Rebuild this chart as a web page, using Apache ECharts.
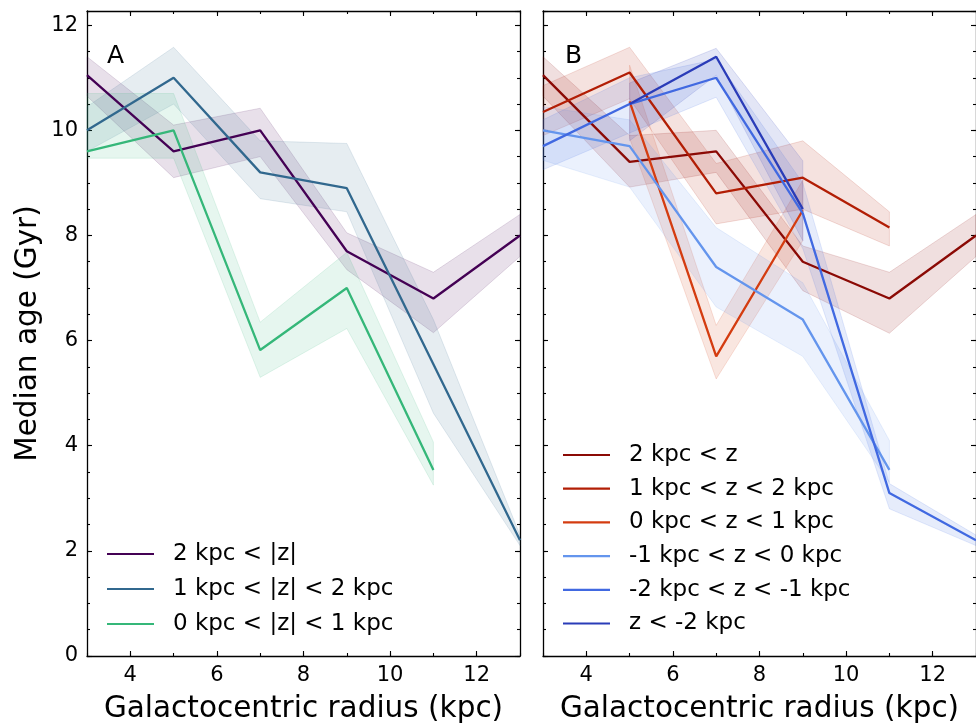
<!DOCTYPE html>
<html>
<head>
<meta charset="utf-8">
<script src="https://cdn.jsdelivr.net/npm/echarts@6/dist/echarts.min.js"></script>
<style>
  html, body { margin: 0; padding: 0; background: #ffffff; }
  #chart { width: 976px; height: 725px; }
</style>
</head>
<body>
<div id="chart"></div>
<script>
// ---- Panel A: bins in |z| ----
const aHighName = '2 kpc < |z|';
const aHighR  = [3, 5, 7, 9, 11, 13];
const aHigh   = [11.05, 9.6, 10.0, 7.7, 6.8, 8.0];
const aHighUp = [11.4, 10.1, 10.42, 8.05, 7.3, 8.4];
const aHighLo = [10.65, 9.1, 9.5, 7.35, 6.15, 7.6];

const aMidName = '1 kpc < |z| < 2 kpc';
const aMidR  = [3, 5, 7, 9, 11, 13];
const aMid   = [10.0, 11.0, 9.2, 8.9, 5.55, 2.2];
const aMidUp = [10.45, 11.58, 9.8, 9.75, 6.4, 2.3];
const aMidLo = [9.6, 10.5, 8.7, 8.45, 4.62, 2.1];

const aLowName = '0 kpc < |z| < 1 kpc';
const aLowR  = [3, 5, 7, 9, 11];
const aLow   = [9.6, 10.0, 5.82, 7.0, 3.54];
const aLowUp = [10.7, 10.7, 6.35, 7.68, 4.07];
const aLowLo = [9.47, 9.47, 5.3, 6.23, 3.25];

// ---- Panel B: bins in signed z ----
const bP2Name = '2 kpc < z';
const bP2R  = [3, 5, 7, 9, 11, 13];
const bP2   = [11.05, 9.4, 9.6, 7.5, 6.8, 8.0];
const bP2Up = [11.4, 9.9, 10.0, 7.8, 7.3, 8.4];
const bP2Lo = [10.65, 8.92, 9.2, 6.95, 6.14, 7.6];

const bP1Name = '1 kpc < z < 2 kpc';
const bP1R  = [3, 5, 7, 9, 11];
const bP1   = [10.35, 11.1, 8.8, 9.1, 8.15];
const bP1Up = [10.85, 11.58, 9.37, 9.8, 8.45];
const bP1Lo = [9.9, 10.6, 8.22, 8.5, 7.8];

const bP0Name = '0 kpc < z < 1 kpc';
const bP0R  = [5, 7, 9];
const bP0   = [10.55, 5.7, 8.48];
const bP0Up = [11.24, 6.29, 9.05];
const bP0Lo = [9.85, 5.27, 7.9];

const bN0Name = '-1 kpc < z < 0 kpc';
const bN0R  = [3, 5, 7, 9, 11];
const bN0   = [10.0, 9.7, 7.4, 6.4, 3.54];
const bN0Up = [10.45, 10.2, 8.15, 7.1, 4.1];
const bN0Lo = [9.43, 8.92, 6.64, 5.7, 3.3];

const bN1Name = '-2 kpc < z < -1 kpc';
const bN1R  = [3, 5, 7, 9, 11, 13];
const bN1   = [9.7, 10.5, 11.0, 8.42, 3.1, 2.2];
const bN1Up = [10.2, 11.0, 11.35, 9.0, 3.28, 2.3];
const bN1Lo = [9.25, 9.95, 10.63, 7.75, 2.8, 2.1];

const bN2Name = 'z < -2 kpc';
const bN2R  = [5, 7, 9];
const bN2   = [10.5, 11.4, 8.5];
const bN2Up = [10.9, 11.56, 9.42];
const bN2Lo = [9.8, 11.05, 7.9];

// Tick positions
const xMajorTicks = [4, 6, 8, 10, 12];
const X_MIN = 3, X_MAX = 13, Y_MIN = 0, Y_MAX = 12.27;

const FONT = 'DejaVu Sans';

// Each panel: [name, radii, median, upper, lower, colour]
const panelA = [
  [aHighName, aHighR, aHigh, aHighUp, aHighLo, '#440154'],
  [aMidName,  aMidR,  aMid,  aMidUp,  aMidLo,  '#31688e'],
  [aLowName,  aLowR,  aLow,  aLowUp,  aLowLo,  '#35b779']
];
const panelB = [
  [bP2Name, bP2R, bP2, bP2Up, bP2Lo, '#8b0a05'],
  [bP1Name, bP1R, bP1, bP1Up, bP1Lo, '#b21e05'],
  [bP0Name, bP0R, bP0, bP0Up, bP0Lo, '#d43c10'],
  [bN0Name, bN0R, bN0, bN0Up, bN0Lo, '#6495ed'],
  [bN1Name, bN1R, bN1, bN1Up, bN1Lo, '#4169e1'],
  [bN2Name, bN2R, bN2, bN2Up, bN2Lo, '#2a3cb8']
];

function rgba(hex, a) {
  const v = parseInt(hex.slice(1), 16);
  return 'rgba(' + ((v >> 16) & 255) + ',' + ((v >> 8) & 255) + ',' + (v & 255) + ',' + a + ')';
}

const axisLineStyle = { color: '#000', width: 1.3 };
const tickLineStyle = { color: '#000', width: 1.1 };

// Four x axes and four y axes per panel: major/minor ticks on every side
function xAxesFor(g) {
  const base = { type: 'value', gridIndex: g, min: X_MIN, max: X_MAX, splitLine: { show: false } };
  return [
    Object.assign({}, base, {
      position: 'bottom',
      axisLine: { show: true, onZero: false, lineStyle: axisLineStyle },
      axisTick: { show: true, inside: true, length: 5, customValues: xMajorTicks, lineStyle: tickLineStyle },
      axisLabel: { show: true, customValues: xMajorTicks, margin: 9, fontSize: 21, color: '#000', fontFamily: FONT },
      name: 'Galactocentric radius (kpc)', nameLocation: 'middle', nameGap: 38,
      nameTextStyle: { fontSize: 29.5, color: '#000', fontFamily: FONT }
    }),
    Object.assign({}, base, {
      position: 'bottom', interval: 1,
      axisLine: { show: false, onZero: false },
      axisTick: { show: true, inside: true, length: 3, lineStyle: tickLineStyle },
      axisLabel: { show: false }
    }),
    Object.assign({}, base, {
      position: 'top',
      axisLine: { show: true, onZero: false, lineStyle: axisLineStyle },
      axisTick: { show: true, inside: true, length: 5, customValues: xMajorTicks, lineStyle: tickLineStyle },
      axisLabel: { show: false }
    }),
    Object.assign({}, base, {
      position: 'top', interval: 1,
      axisLine: { show: false, onZero: false },
      axisTick: { show: true, inside: true, length: 3, lineStyle: tickLineStyle },
      axisLabel: { show: false }
    })
  ];
}

function yAxesFor(g, withLabels) {
  const base = { type: 'value', gridIndex: g, min: Y_MIN, max: Y_MAX, splitLine: { show: false } };
  const leftMajor = Object.assign({}, base, {
    position: 'left', interval: 2,
    axisLine: { show: true, onZero: false, lineStyle: axisLineStyle },
    axisTick: { show: true, inside: true, length: 5, lineStyle: tickLineStyle },
    axisLabel: { show: withLabels, showMaxLabel: false, margin: 9, fontSize: 21, color: '#000', fontFamily: FONT }
  });
  if (withLabels) {
    Object.assign(leftMajor, {
      name: 'Median age (Gyr)', nameLocation: 'middle', nameGap: 44,
      nameTextStyle: { fontSize: 29.5, color: '#000', fontFamily: FONT }
    });
  }
  return [
    leftMajor,
    Object.assign({}, base, {
      position: 'left', interval: 0.5,
      axisLine: { show: false, onZero: false },
      axisTick: { show: true, inside: true, length: 3, lineStyle: tickLineStyle },
      axisLabel: { show: false }
    }),
    Object.assign({}, base, {
      position: 'right', interval: 2,
      axisLine: { show: true, onZero: false, lineStyle: axisLineStyle },
      axisTick: { show: true, inside: true, length: 5, lineStyle: tickLineStyle },
      axisLabel: { show: false }
    }),
    Object.assign({}, base, {
      position: 'right', interval: 0.5,
      axisLine: { show: false, onZero: false },
      axisTick: { show: true, inside: true, length: 3, lineStyle: tickLineStyle },
      axisLabel: { show: false }
    })
  ];
}

// Shaded uncertainty band: one polygon built from the series' own rows
function bandRenderer(fill, stroke) {
  return function (params, api) {
    if (params.dataIndexInside !== 0) return null;
    const n = params.dataInsideLength;
    const upper = [], lower = [];
    for (let j = 0; j < n; j++) {
      const x = api.value(0, j);
      upper.push(api.coord([x, api.value(2, j)]));
      lower.push(api.coord([x, api.value(1, j)]));
    }
    return {
      type: 'polygon',
      shape: { points: upper.concat(lower.reverse()) },
      style: { fill: fill, stroke: stroke, lineWidth: 0.8 }
    };
  };
}

function seriesFor(panel, g, bandAlpha) {
  const out = [];
  const ax = g * 4, ay = g * 4;
  panel.forEach(function (p) {
    const [name, r, med, up, lo, color] = p;
    out.push({
      type: 'custom', name: name + ' band', xAxisIndex: ax, yAxisIndex: ay,
      data: r.map(function (x, i) { return [x, lo[i], up[i]]; }),
      encode: { x: 0, y: [1, 2] },
      renderItem: bandRenderer(rgba(color, bandAlpha), rgba(color, bandAlpha + 0.05)),
      silent: true, z: 1
    });
  });
  panel.forEach(function (p) {
    const [name, r, med, , , color] = p;
    out.push({
      type: 'line', name: name, xAxisIndex: ax, yAxisIndex: ay,
      data: r.map(function (x, i) { return [x, med[i]]; }),
      symbol: 'none', z: 3,
      lineStyle: { width: 2.3, color: color },
      itemStyle: { color: color }
    });
  });
  return out;
}

const legendText = { fontSize: 23, color: '#000', fontFamily: FONT, lineHeight: 24, padding: [0, 0, 0, 14] };

const option = {
  animation: false,
  backgroundColor: '#ffffff',
  title: [
    { text: 'A', left: 107, top: 44, padding: 0, textStyle: { fontSize: 25, fontWeight: 'normal', color: '#000', fontFamily: FONT } },
    { text: 'B', left: 565, top: 44, padding: 0, textStyle: { fontSize: 25, fontWeight: 'normal', color: '#000', fontFamily: FONT } }
  ],
  grid: [
    { left: 87, top: 11, width: 433, height: 645, outerBoundsMode: 'none', containLabel: false },
    { left: 543, top: 11, width: 433, height: 645, outerBoundsMode: 'none', containLabel: false }
  ],
  xAxis: xAxesFor(0).concat(xAxesFor(1)),
  yAxis: yAxesFor(0, true).concat(yAxesFor(1, false)),
  legend: [
    {
      data: panelA.map(function (p) { return p[0]; }),
      orient: 'vertical', left: 107, top: 542, padding: 0,
      icon: 'rect', itemWidth: 47, itemHeight: 2.2, itemGap: 11,
      textStyle: legendText, selectedMode: false
    },
    {
      data: panelB.map(function (p) { return p[0]; }),
      orient: 'vertical', left: 563, top: 443, padding: 0,
      icon: 'rect', itemWidth: 47, itemHeight: 2.2, itemGap: 9.7,
      textStyle: legendText, selectedMode: false
    }
  ],
  series: seriesFor(panelA, 0, 0.12).concat(seriesFor(panelB, 1, 0.13))
};

const chart = echarts.init(document.getElementById('chart'), null, { renderer: 'canvas' });
chart.setOption(option);
</script>
</body>
</html>
